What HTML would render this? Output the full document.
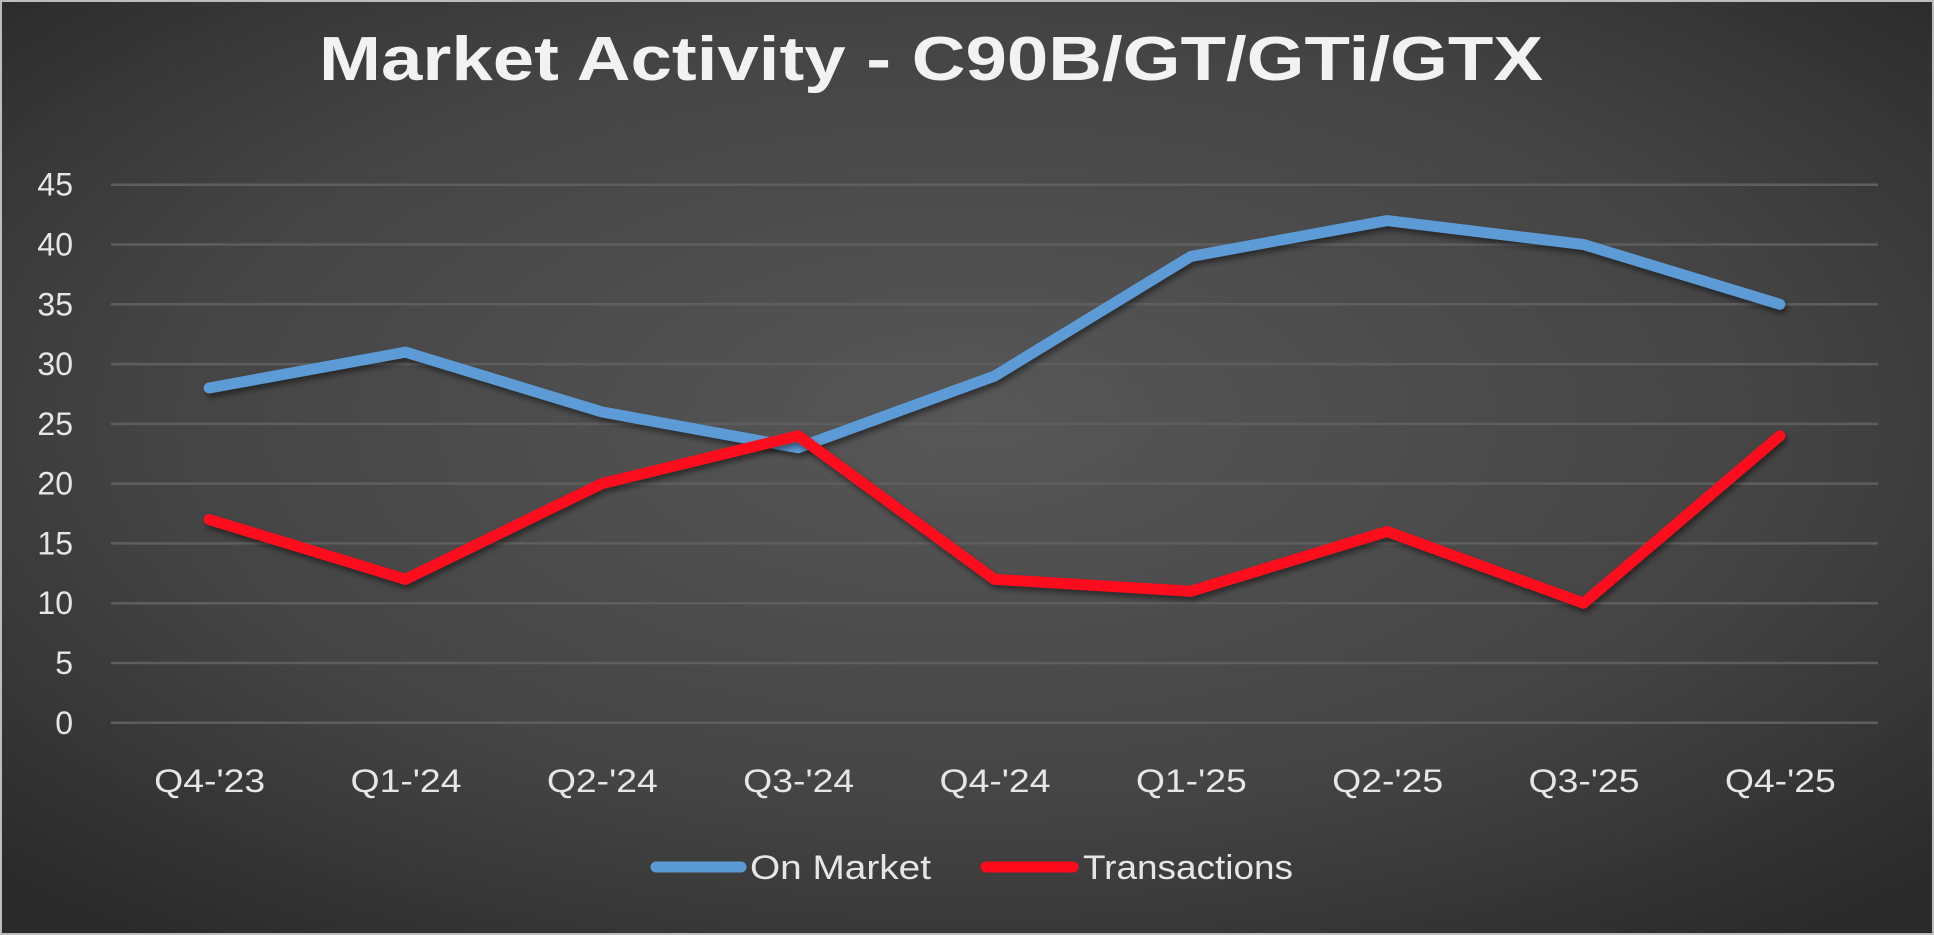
<!DOCTYPE html>
<html><head><meta charset="utf-8"><style>
html,body{margin:0;padding:0;background:#2b2b2b;}
svg{display:block;font-family:"Liberation Sans",sans-serif;}
</style></head><body>
<svg id="chart" width="1934" height="935" viewBox="0 0 1934 935" xmlns="http://www.w3.org/2000/svg">
<defs>
<radialGradient id="bg" cx="50%" cy="45%" r="70%">
<stop offset="0" stop-color="#575757"/><stop offset="0.6" stop-color="#444"/><stop offset="1" stop-color="#2a2a2a"/>
</radialGradient>
<filter id="sh" x="-5%" y="-10%" width="110%" height="130%"><feDropShadow dx="2" dy="4" stdDeviation="3" flood-color="#000" flood-opacity="0.45"/></filter>
</defs>
<rect x="0" y="0" width="1934" height="935" fill="url(#bg)"/>
<rect x="1" y="1" width="1932" height="933" fill="none" stroke="#bdbdbd" stroke-width="2"/>
<text x="931" y="80" text-anchor="middle" font-size="62" font-weight="bold" fill="#f2f2f2" textLength="1224" lengthAdjust="spacingAndGlyphs">Market Activity - C90B/GT/GTi/GTX</text>
<g id="grid"></g><g id="yt"></g><g id="xt"></g><g id="series"></g>
<g>
<line x1="656" y1="867" x2="741" y2="867" stroke="#5b9bd5" stroke-width="11" stroke-linecap="round"/>
<text x="750" y="879" font-size="34" fill="#e6e6e6" textLength="181" lengthAdjust="spacingAndGlyphs">On Market</text>
<line x1="986" y1="867" x2="1073" y2="867" stroke="#ff0a1a" stroke-width="11" stroke-linecap="round"/>
<text x="1083" y="879" font-size="34" fill="#e6e6e6" textLength="210" lengthAdjust="spacingAndGlyphs">Transactions</text>
</g>
</svg>
<script>
const categories=["Q4-'23","Q1-'24","Q2-'24","Q3-'24","Q4-'24","Q1-'25","Q2-'25","Q3-'25","Q4-'25"];
const onMarket=[28,31,26,23,29,39,42,40,35];
const transactions=[17,12,20,24,12,11,16,10,24];
const yTicks=[0,5,10,15,20,25,30,35,40,45];
const NS="http://www.w3.org/2000/svg";
const L=111,R=1878,T=184.7,B=722.8,YMAX=45;
const x=i=>L+(R-L)/categories.length*(i+0.5);
const y=v=>B-(B-T)*v/YMAX;
function mk(tag,attrs,parent){const e=document.createElementNS(NS,tag);for(const k in attrs)e.setAttribute(k,attrs[k]);document.getElementById(parent).appendChild(e);return e;}
yTicks.forEach(t=>{
 const g=mk('line',{x1:L,x2:R,y1:y(t),y2:y(t),stroke:'#5e5e5e','stroke-width':2.5},'grid');
 
 
 const tx=mk('text',{x:73,y:y(t)+11,'text-anchor':'end','font-size':32,fill:'#e6e6e6'},'yt');
 tx.textContent=t;
 
 
});
categories.forEach((c,i)=>{
 const tx=mk('text',{x:x(i)-55,y:792,'font-size':32,fill:'#e6e6e6',textLength:111,lengthAdjust:'spacingAndGlyphs'},'xt');
 tx.textContent=c;
 
 
});
function line(data,color,name){
 const p=mk('polyline',{points:data.map((v,i)=>x(i)+','+y(v)).join(' '),fill:'none',stroke:color,'stroke-width':11,'stroke-linecap':'round','stroke-linejoin':'round',filter:'url(#sh)'},'series');
 
 
}
line(onMarket,'#5b9bd5','on-market-line');
line(transactions,'#ff0a1a','transactions-line');
</script>
</body></html>
